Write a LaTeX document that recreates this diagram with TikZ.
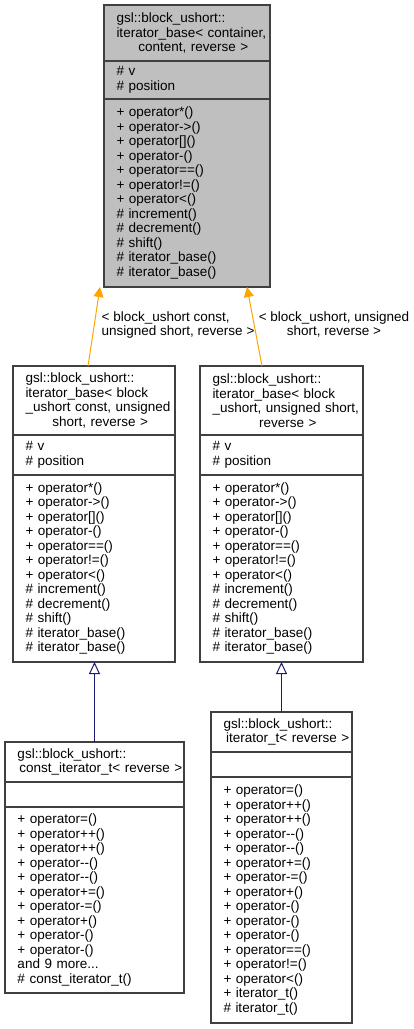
\documentclass[tikz,border=0pt]{standalone}
\usepackage{fontspec}
\setmainfont{Liberation Sans}
\usetikzlibrary{positioning,arrows.meta}

\definecolor{dxedge}{HTML}{404040}
\definecolor{dxgray}{HTML}{BFBFBF}
\definecolor{dxorange}{HTML}{FFA500}
\definecolor{dxnavy}{HTML}{191970}
\newcommand{\dxfont}{\fontsize{13.5}{14.5}\selectfont}
% last title line, centred in the whole box
\newcommand{\lastline}[1]{\hfill #1\hfill\hspace*{12.5pt}}

\tikzset{
  cls/.style={draw=dxedge,line width=1.1pt,outer sep=0pt,inner xsep=0pt,inner ysep=0pt,
    text width=#1,minimum width=#1,align=left,font=\dxfont,
    execute at begin node={\leftskip=12.5pt}},
  tmpl/.style={draw=dxorange,line width=1pt,-{Triangle[width=10pt,length=10pt]}},
  inherit/.style={draw=dxnavy,line width=1pt,-{Triangle[open,width=11pt,length=12pt]}},
  lbl/.style={font=\dxfont,inner sep=0pt}
}

\begin{document}
\begin{tikzpicture}[x=1pt,y=1pt]
        \useasboundingbox (0,0) rectangle (413,-1029);
        % base template
        \node[cls=166pt,fill=dxgray,minimum height=56pt,anchor=north west] (base-t) at (104,-5)
          {gsl::block\_ushort::\\iterator\_base< container,\\\lastline{content, reverse >}};
        \node[cls=166pt,fill=dxgray,minimum height=38pt,below=0pt of base-t] (base-a) {\# v\\\# position};
        \node[cls=166pt,fill=dxgray,minimum height=188pt,below=0pt of base-a] (base-m)
          {+ operator*()\\+ operator->()\\+ operator[]()\\+ operator-()\\+ operator==()\\+ operator!=()\\+ operator<()\\
           \# increment()\\\# decrement()\\\# shift()\\\# iterator\_base()\\\# iterator\_base()};
        % const instance
        \node[cls=162pt,minimum height=69pt,anchor=north west] (bcon-t) at (13,-366)
          {gsl::block\_ushort::\\iterator\_base< block\\\_ushort const, unsigned\\\lastline{short, reverse >}};
        \node[cls=162pt,minimum height=40pt,below=0pt of bcon-t] (bcon-a) {\# v\\\# position};
        \node[cls=162pt,minimum height=187pt,below=0pt of bcon-a] (bcon-m)
          {+ operator*()\\+ operator->()\\+ operator[]()\\+ operator-()\\+ operator==()\\+ operator!=()\\+ operator<()\\
           \# increment()\\\# decrement()\\\# shift()\\\# iterator\_base()\\\# iterator\_base()};
        % non-const instance
        \node[cls=163pt,minimum height=69pt,anchor=north west] (bush-t) at (200,-366)
          {gsl::block\_ushort::\\iterator\_base< block\\\_ushort, unsigned short,\\\lastline{reverse >}};
        \node[cls=163pt,minimum height=40pt,below=0pt of bush-t] (bush-a) {\# v\\\# position};
        \node[cls=163pt,minimum height=187pt,below=0pt of bush-a] (bush-m)
          {+ operator*()\\+ operator->()\\+ operator[]()\\+ operator-()\\+ operator==()\\+ operator!=()\\+ operator<()\\
           \# increment()\\\# decrement()\\\# shift()\\\# iterator\_base()\\\# iterator\_base()};
        % const_iterator_t
        \node[cls=179pt,minimum height=40pt,anchor=north west] (cit-t) at (5,-742)
          {gsl::block\_ushort::\\\lastline{const\_iterator\_t< reverse >}};
        \node[cls=179pt,minimum height=25pt,below=0pt of cit-t] (cit-a) {};
        \node[cls=179pt,minimum height=186pt,below=0pt of cit-a] (cit-m)
          {+ operator=()\\+ operator++()\\+ operator++()\\+ operator-{}-()\\+ operator-{}-()\\+ operator+=()\\
           + operator-=()\\+ operator+()\\+ operator-()\\+ operator-()\\and 9 more...\\\# const\_iterator\_t()};
        % iterator_t
        \node[cls=141pt,minimum height=40pt,anchor=north west] (it-t) at (211,-712)
          {gsl::block\_ushort::\\\lastline{iterator\_t< reverse >}};
        \node[cls=141pt,minimum height=25pt,below=0pt of it-t] (it-a) {};
        \node[cls=141pt,minimum height=246pt,below=0pt of it-a] (it-m)
          {+ operator=()\\+ operator++()\\+ operator++()\\+ operator-{}-()\\+ operator-{}-()\\+ operator+=()\\
           + operator-=()\\+ operator+()\\+ operator-()\\+ operator-()\\+ operator-()\\+ operator==()\\
           + operator!=()\\+ operator<()\\+ iterator\_t()\\\# iterator\_t()};
        % edges
        \draw[tmpl] ([xshift=-6pt]bcon-t.north) -- ([xshift=-87pt]base-m.south);
        \draw[tmpl] ([xshift=-19.5pt]bush-t.north) -- ([xshift=60pt]base-m.south);
        \draw[inherit] (cit-t.north) -- (cit-t.north |- bcon-m.south);
        \draw[inherit] (it-t.north) -- (bush-m.south);
        \node[lbl,anchor=north west,align=left] (lbl-con) at (101.5,-311.5)
          {< block\_ushort const,\\unsigned short, reverse >};
        \node[lbl,anchor=north,align=center] (lbl-ush) at (334,-311.5)
          {< block\_ushort, unsigned\\short, reverse >};
      \end{tikzpicture}
\end{document}
